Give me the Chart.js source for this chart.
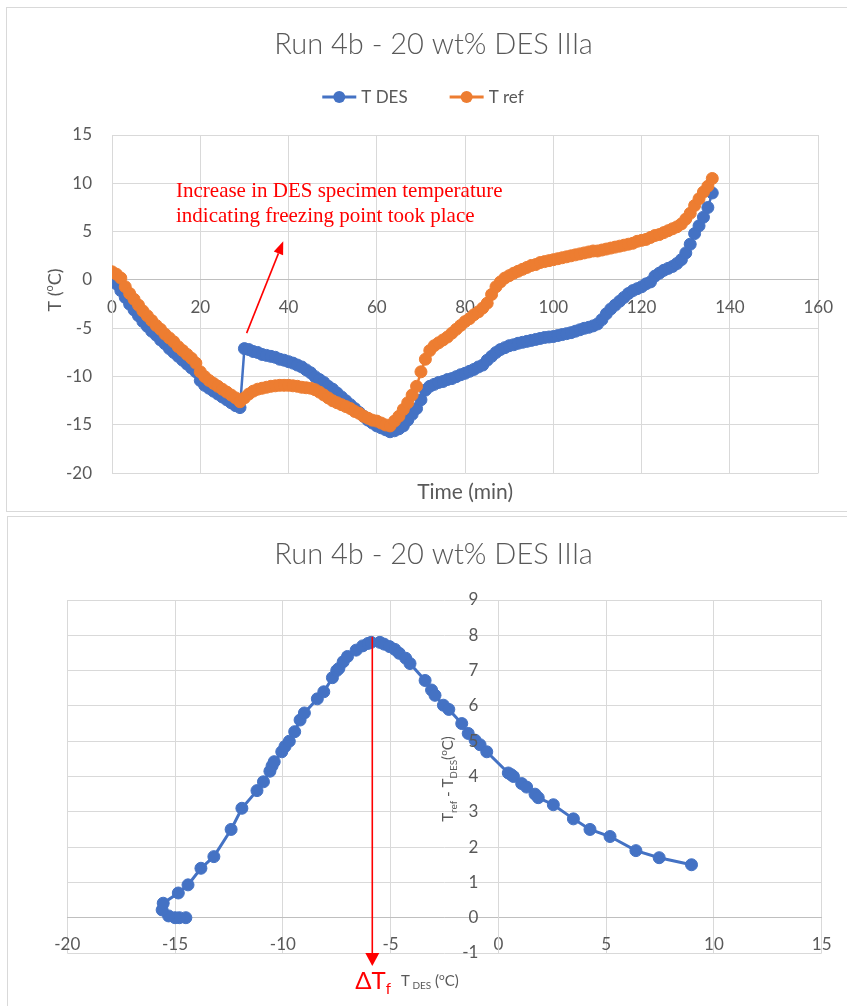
<!DOCTYPE html>
<html>
<head>
<meta charset="utf-8">
<script src="https://cdn.jsdelivr.net/npm/chart.js@4.4.1/dist/chart.umd.min.js"></script>
<style>
  html, body { margin: 0; padding: 0; background: #fff; overflow: hidden; }
  .panel { position: absolute; border: 1px solid #d9d9d9; background: #fff; }
  #topPanel { left: 6px; top: 7px; width: 845px; height: 503px; }
  #bottomPanel { left: 7px; top: 516px; width: 845px; height: 498px; }
  canvas { display: block; }
</style>
</head>
<body>
<div class="panel" id="topPanel"><canvas id="timeChart" width="843" height="503"></canvas></div>
<div class="panel" id="bottomPanel"><canvas id="deltaChart" width="843" height="498"></canvas></div>
<script>
// ---- data ----
const chartTitle = 'Run 4b - 20 wt% DES IIIa';
const seriesNames = ['T DES', 'T ref'];

const timeMin = [
  0, 1, 2, 3, 4, 5, 6, 7, 8, 9, 10, 11, 12, 13, 14, 15, 16, 17, 18, 19,
  20, 21, 22, 23, 24, 25, 26, 27, 28, 29, 30, 31, 32, 33, 34, 35, 36, 37, 38, 39,
  40, 41, 42, 43, 44, 45, 46, 47, 48, 49, 50, 51, 52, 53, 54, 55, 56, 57, 58, 59,
  60, 61, 62, 63, 64, 65, 66, 67, 68, 69, 70, 71, 72, 73, 74, 75, 76, 77, 78, 79,
  80, 81, 82, 83, 84, 85, 86, 87, 88, 89, 90, 91, 92, 93, 94, 95, 96, 97, 98, 99,
  100, 101, 102, 103, 104, 105, 106, 107, 108, 109, 110, 111, 112, 113, 114, 115, 116, 117, 118, 119,
  120, 121, 122, 123, 124, 125, 126, 127, 128, 129, 130, 131, 132, 133, 134, 135, 136
];

const tDes = [
  0.1, -0.4, -1.1, -1.8, -2.5, -3.1, -3.7, -4.3, -4.8, -5.3, -5.7, -6.2, -6.6, -7.1, -7.5, -7.9, -8.3, -8.7, -9.1, -9.5,
  -10.4, -10.9, -11.2, -11.5, -11.8, -12.1, -12.4, -12.7, -13.0, -13.2, -7.1, -7.2, -7.4, -7.5, -7.7, -7.8, -7.9, -8.0, -8.2, -8.3,
  -8.45, -8.6, -8.8, -9.0, -9.3, -9.6, -10.0, -10.3, -10.6, -11.0, -11.3, -11.7, -12.1, -12.5, -12.9, -13.3, -13.7, -14.1, -14.5, -14.8,
  -15.1, -15.3, -15.5, -15.7, -15.6, -15.4, -15.1, -14.5, -13.9, -13.3, -12.4, -11.4, -11.0, -10.8, -10.6, -10.5, -10.3, -10.2, -10.0, -9.8,
  -9.65, -9.45, -9.25, -9.0, -8.8, -8.3, -7.9, -7.5, -7.2, -7.0, -6.8, -6.7, -6.55, -6.45, -6.35, -6.25, -6.15, -6.05, -5.95, -5.9,
  -5.85, -5.75, -5.65, -5.55, -5.45, -5.3, -5.15, -5.0, -4.9, -4.75, -4.55, -4.1, -3.5, -3.0, -2.6, -2.2, -1.8, -1.4, -1.1, -0.9,
  -0.7, -0.4, -0.2, 0.4, 0.7, 1.0, 1.2, 1.4, 1.7, 2.1, 2.8, 3.7, 4.8, 5.6, 6.5, 7.5, 9.0
];

const tRef = [
  0.85, 0.6, 0.2, -0.7, -1.4, -2.0, -2.6, -3.2, -3.7, -4.2, -4.7, -5.1, -5.6, -6.0, -6.4, -6.9, -7.3, -7.7, -8.1, -8.6,
  -9.5, -10.0, -10.4, -10.7, -11.0, -11.3, -11.6, -11.9, -12.2, -12.6, -12.2, -11.8, -11.5, -11.3, -11.2, -11.1, -11.0, -10.95, -10.9, -10.9,
  -10.9, -10.95, -11.0, -11.1, -11.15, -11.2, -11.35, -11.6, -11.9, -12.2, -12.5, -12.7, -12.9, -13.1, -13.3, -13.6, -13.8, -14.1, -14.3, -14.5,
  -14.6, -14.8, -15.0, -15.1, -14.6, -14.1, -13.4, -12.7, -11.9, -11.0, -9.5, -8.2, -7.3, -6.8, -6.5, -6.2, -5.9, -5.5, -5.1, -4.7,
  -4.3, -4.0, -3.6, -3.3, -2.9, -2.4, -1.5, -0.7, -0.2, 0.2, 0.45, 0.7, 0.9, 1.1, 1.3, 1.5, 1.6, 1.8, 1.9, 2.0,
  2.1, 2.2, 2.3, 2.4, 2.5, 2.6, 2.7, 2.8, 2.9, 3.0, 3.0, 3.1, 3.2, 3.3, 3.4, 3.5, 3.6, 3.7, 3.8, 4.0,
  4.1, 4.2, 4.4, 4.6, 4.7, 4.9, 5.1, 5.3, 5.5, 5.8, 6.3, 6.9, 7.7, 8.4, 9.1, 9.7, 10.5
];

// second chart: T_ref - T_DES against T_DES (thawing part)
const deltaTDes = [
  -14.5, -14.8, -15.0, -15.3, -15.6, -15.55, -14.85, -14.4, -13.8, -13.2, -12.4, -11.9, -11.2, -10.9, -10.6, -10.5,
  -10.4, -10.05, -9.9, -9.7, -9.45, -9.2, -9.0, -8.4, -8.1, -7.7, -7.5, -7.4, -7.2, -7.0, -6.6, -6.3,
  -6.05, -5.9, -5.5, -5.3, -5.05, -4.8, -4.6, -4.3, -4.1, -3.4, -3.1, -2.94, -2.55, -2.3, -1.7, -1.4,
  -1.08, -0.85, -0.54, 0.46, 0.6, 0.7, 1.08, 1.31, 1.7, 1.85, 2.55, 3.48, 4.25, 5.18, 6.38, 7.46, 8.96
];
const deltaDiff = [
  0.0, 0.0, 0.0, 0.05, 0.22, 0.41, 0.7, 0.93, 1.4, 1.73, 2.5, 3.1, 3.6, 3.85, 4.15, 4.3,
  4.42, 4.7, 4.85, 5.0, 5.27, 5.6, 5.8, 6.2, 6.4, 6.8, 7.0, 7.06, 7.25, 7.4, 7.58, 7.7,
  7.77, 7.8, 7.8, 7.75, 7.68, 7.6, 7.49, 7.35, 7.2, 6.72, 6.45, 6.3, 6.02, 5.9, 5.5, 5.22,
  5.03, 4.9, 4.7, 4.1, 4.05, 4.0, 3.8, 3.7, 3.5, 3.4, 3.2, 2.8, 2.5, 2.3, 1.9, 1.7, 1.5
];

const timeTicks = { min: 0, max: 160, step: 20 };
const tempTicks = { min: -20, max: 15, step: 5 };
const deltaXTicks = { min: -20, max: 15, step: 5 };
const deltaYTicks = { min: -1, max: 9, step: 1 };

const noteLines = ['Increase in DES specimen temperature', 'indicating freezing point took place'];
const freezingPointX = -5.85;

// ---- styling ----
const BLUE = '#4472C4';
const ORANGE = '#ED7D31';
const RED = '#FF0000';
const TEXT = '#595959';
const GRID = '#d9d9d9';
const AXIS = '#bfbfbf';
const FONT = 'Lato, "Open Sans", sans-serif';
const TICK_FONT = { family: FONT, size: 17 };

function drawParts(ctx, parts, x, y) {
  // parts: [text, size, dy]
  let cx = x;
  parts.forEach(([txt, size, dy]) => {
    ctx.font = size + 'px ' + FONT;
    ctx.fillText(txt, cx, y + (dy || 0));
    cx += ctx.measureText(txt).width;
  });
  return cx - x;
}

function partsWidth(ctx, parts) {
  let w = 0;
  parts.forEach(([txt, size]) => {
    ctx.font = size + 'px ' + FONT;
    w += ctx.measureText(txt).width;
  });
  return w;
}

function drawArrow(ctx, x1, y1, x2, y2, headLen, headW) {
  const a = Math.atan2(y2 - y1, x2 - x1);
  const bx = x2 - headLen * Math.cos(a), by = y2 - headLen * Math.sin(a);
  ctx.beginPath();
  ctx.moveTo(x1, y1);
  ctx.lineTo(bx, by);
  ctx.stroke();
  ctx.beginPath();
  ctx.moveTo(x2, y2);
  ctx.lineTo(bx + headW / 2 * Math.sin(a), by - headW / 2 * Math.cos(a));
  ctx.lineTo(bx - headW / 2 * Math.sin(a), by + headW / 2 * Math.cos(a));
  ctx.closePath();
  ctx.fill();
}

function drawTitle(ctx, cx, cy) {
  ctx.fillStyle = TEXT;
  ctx.textBaseline = 'middle';
  ctx.textAlign = 'center';
  ctx.font = '300 29px ' + FONT;
  ctx.fillText(chartTitle, cx, cy);
}

const timeDecor = {
  id: 'timeDecor',
  afterDraw(chart) {
    const { ctx, chartArea, scales } = chart;
    ctx.save();
    drawTitle(ctx, 426.5, 37);

    // legend: line + marker, like Excel
    ctx.font = '17px ' + FONT;
    ctx.textAlign = 'left';
    const symW = 34, gap = 5, itemGap = 42;
    const items = chart.data.datasets.map(ds => ({ ds, w: ctx.measureText(ds.label).width }));
    const total = items.reduce((s, it) => s + symW + gap + it.w, 0) + itemGap * (items.length - 1);
    let lx = 416 - total / 2;
    const ly = 89;
    items.forEach(it => {
      ctx.strokeStyle = it.ds.borderColor;
      ctx.fillStyle = it.ds.borderColor;
      ctx.lineWidth = 3;
      ctx.beginPath();
      ctx.moveTo(lx, ly);
      ctx.lineTo(lx + symW, ly);
      ctx.stroke();
      ctx.beginPath();
      ctx.arc(lx + symW / 2, ly, 6, 0, Math.PI * 2);
      ctx.fill();
      ctx.fillStyle = TEXT;
      ctx.fillText(it.ds.label, lx + symW + gap, ly + 1);
      lx += symW + gap + it.w + itemGap;
    });

    // axis titles
    ctx.fillStyle = TEXT;
    ctx.textAlign = 'center';
    ctx.font = '21px ' + FONT;
    ctx.fillText('Time (min)', (chartArea.left + chartArea.right) / 2, 484);
    ctx.save();
    ctx.translate(48, 282);
    ctx.rotate(-Math.PI / 2);
    ctx.textAlign = 'left';
    ctx.textBaseline = 'alphabetic';
    const yParts = [['T (', 18, 0], ['o', 11, -8], ['C)', 18, 0]];
    drawParts(ctx, yParts, -partsWidth(ctx, yParts) / 2, 6);
    ctx.restore();

    // annotation
    ctx.fillStyle = RED;
    ctx.strokeStyle = RED;
    ctx.textAlign = 'left';
    ctx.textBaseline = 'middle';
    ctx.font = '21px "Liberation Serif", "Times New Roman", serif';
    const nx = scales.x.getPixelForValue(14.5);
    ctx.fillText(noteLines[0], nx, scales.y.getPixelForValue(9.15));
    ctx.fillText(noteLines[1], nx, scales.y.getPixelForValue(6.6));
    ctx.lineWidth = 1.6;
    drawArrow(ctx,
      scales.x.getPixelForValue(30.5), scales.y.getPixelForValue(-5.5),
      scales.x.getPixelForValue(38.8), scales.y.getPixelForValue(4.0), 13, 10);
    ctx.restore();
  }
};

const deltaDecor = {
  id: 'deltaDecor',
  afterDraw(chart) {
    const { ctx, chartArea, scales } = chart;
    ctx.save();
    drawTitle(ctx, 425.5, 38);

    // y tick labels, kept a little away from the zero axis
    const x0 = scales.x.getPixelForValue(0);
    ctx.fillStyle = TEXT;
    ctx.font = '17px ' + FONT;
    ctx.textAlign = 'right';
    ctx.textBaseline = 'middle';
    scales.y.ticks.forEach(t => {
      ctx.fillText(String(t.value), x0 - 20, scales.y.getPixelForValue(t.value));
    });

    // y title, rotated, next to the zero axis
    ctx.save();
    ctx.translate(440, 262);
    ctx.rotate(-Math.PI / 2);
    ctx.textAlign = 'left';
    ctx.textBaseline = 'alphabetic';
    const yParts = [['T', 15, 0], ['ref', 10, 4], [' - T', 15, 0], ['DES', 10, 4], ['(', 15, 0], ['o', 10, -6], ['C)', 15, 0]];
    drawParts(ctx, yParts, -partsWidth(ctx, yParts) / 2, 5);
    ctx.restore();

    // freezing point arrow
    const ax = scales.x.getPixelForValue(freezingPointX);
    ctx.strokeStyle = RED;
    ctx.fillStyle = RED;
    ctx.lineWidth = 1.6;
    drawArrow(ctx, ax, scales.y.getPixelForValue(7.96), ax, chartArea.bottom + 13, 13, 14);

    ctx.textAlign = 'left';
    ctx.textBaseline = 'alphabetic';
    ctx.fillStyle = RED;
    drawParts(ctx, [['\u0394T', 24, 0], ['f', 15, 5]], ax - 17, 472);
    ctx.fillStyle = TEXT;
    drawParts(ctx, [['T', 15, 0], [' DES', 10, 3], [' (', 15, 0], ['o', 10, -6], ['C)', 15, 0]], 393, 469);
    ctx.restore();
  }
};

new Chart(document.getElementById('timeChart'), {
  type: 'line',
  data: {
    datasets: [
      {
        label: seriesNames[0],
        data: timeMin.map((t, i) => ({ x: t, y: tDes[i] })),
        borderColor: BLUE, backgroundColor: BLUE,
        borderWidth: 2.5, pointRadius: 6, pointBorderWidth: 1,
        tension: 0, order: 1
      },
      {
        label: seriesNames[1],
        data: timeMin.map((t, i) => ({ x: t, y: tRef[i] })),
        borderColor: ORANGE, backgroundColor: ORANGE,
        borderWidth: 2.5, pointRadius: 6, pointBorderWidth: 1,
        tension: 0, order: 0
      }
    ]
  },
  options: {
    responsive: false,
    animation: false,
    layout: { padding: { left: 30, top: 127, right: 31.5, bottom: 37.7 } },
    plugins: { legend: { display: false }, title: { display: false }, tooltip: { enabled: false } },
    scales: {
      x: {
        type: 'linear', min: timeTicks.min, max: timeTicks.max,
        position: { y: 0 },
        ticks: { stepSize: timeTicks.step, padding: 17, color: TEXT, font: TICK_FONT },
        grid: { color: GRID, drawTicks: false },
        border: { color: AXIS }
      },
      y: {
        type: 'linear', min: tempTicks.min, max: tempTicks.max,
        position: 'left',
        afterFit: scale => { scale.width = 75; },
        ticks: { stepSize: tempTicks.step, padding: 20, color: TEXT, font: TICK_FONT },
        grid: { color: GRID, drawTicks: false },
        border: { color: GRID }
      }
    }
  },
  plugins: [timeDecor]
});

new Chart(document.getElementById('deltaChart'), {
  type: 'scatter',
  data: {
    datasets: [{
      label: 'Tref - TDES',
      data: deltaTDes.map((x, i) => ({ x, y: deltaDiff[i] })),
      showLine: true,
      borderColor: BLUE, backgroundColor: BLUE,
      borderWidth: 3, pointRadius: 6, pointBorderWidth: 1
    }]
  },
  options: {
    responsive: false,
    animation: false,
    layout: { padding: { left: 59.3, top: 83, right: 29.3, bottom: 62 } },
    plugins: { legend: { display: false }, title: { display: false }, tooltip: { enabled: false } },
    scales: {
      x: {
        type: 'linear', min: deltaXTicks.min, max: deltaXTicks.max,
        position: { y: 0 },
        ticks: { stepSize: deltaXTicks.step, padding: 17, color: TEXT, font: TICK_FONT },
        grid: { color: GRID, drawTicks: false },
        border: { color: AXIS }
      },
      y: {
        type: 'linear', min: deltaYTicks.min, max: deltaYTicks.max,
        position: { x: 0 },
        ticks: { stepSize: deltaYTicks.step, display: false },
        grid: { color: GRID, drawTicks: false },
        border: { color: GRID }
      }
    }
  },
  plugins: [deltaDecor]
});
</script>
</body>
</html>
